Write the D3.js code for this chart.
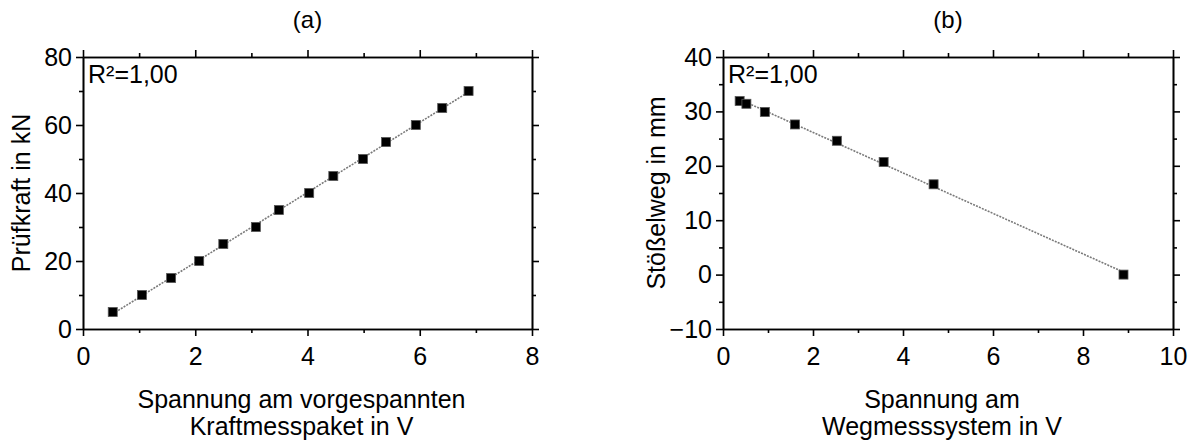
<!DOCTYPE html>
<html><head><meta charset="utf-8">
<script src="https://cdn.jsdelivr.net/npm/d3@7"></script>
<style>
html,body{margin:0;padding:0;background:#fff;}
text{font-family:"Liberation Sans",Arial,sans-serif;fill:#000;}
</style></head>
<body>
<svg id="chart" width="1192" height="446"></svg>
<script>
// Panel (a)
const aVolt = [0.53, 1.05, 1.57, 2.07, 2.50, 3.08, 3.49, 4.03, 4.46, 4.99, 5.40, 5.93, 6.40, 6.87];
const aForce = [5, 10, 15, 20, 25, 30, 35, 40, 45, 50, 55, 60, 65, 70];
// Panel (b)
const bVolt = [0.37, 0.52, 0.93, 1.60, 2.53, 3.57, 4.68, 8.90];
const bPath = [31.9, 31.4, 29.9, 27.6, 24.6, 20.7, 16.6, 0.0];

const aXTicks = [0, 2, 4, 6, 8];
const aYTicks = [0, 20, 40, 60, 80];
const bXTicks = [0, 2, 4, 6, 8, 10];
const bYTicks = [-10, 0, 10, 20, 30, 40];

const svg = d3.select("#chart");
const FS = 25;

function fit(xs, ys){
  const n = xs.length, mx = d3.mean(xs), my = d3.mean(ys);
  let sxy = 0, sxx = 0;
  for (let i=0;i<n;i++){ sxy += (xs[i]-mx)*(ys[i]-my); sxx += (xs[i]-mx)**2; }
  const m = sxy/sxx; return {m, b: my - m*mx};
}

function panel(cfg){
  const {left, right, top, bottom, xDom, yDom, xTicks, yTicks, xMinor, yMinor, xs, ys, title, xlab, ylab, ylabX} = cfg;
  const x = d3.scaleLinear().domain(xDom).range([left, right]);
  const y = d3.scaleLinear().domain(yDom).range([bottom, top]);
  const g = svg.append("g");

  // fit line
  const f = fit(xs, ys);
  const x0 = d3.min(xs), x1 = d3.max(xs);
  g.append("line").attr("x1", x(x0)).attr("y1", y(f.m*x0+f.b))
    .attr("x2", x(x1)).attr("y2", y(f.m*x1+f.b))
    .attr("stroke", "#7a7a7a").attr("stroke-width", 1.6).attr("stroke-dasharray", "2,1.2");

  // markers
  const s = 9;
  g.selectAll("rect.pt").data(xs.map((d,i)=>[d, ys[i]])).enter().append("rect")
    .attr("class","pt")
    .attr("x", d=>x(d[0])-s/2).attr("y", d=>y(d[1])-s/2)
    .attr("width", s).attr("height", s)
    .attr("fill", "#000").attr("stroke", "#555").attr("stroke-width", 0.8);

  // axes
  const axB = d3.axisBottom(x).tickValues(xTicks).tickSize(7).tickSizeOuter(0).tickPadding(11).tickFormat(d3.format("d"));
  const axT = d3.axisTop(x).tickValues(xTicks).tickSize(7).tickSizeOuter(0).tickFormat("");
  const axL = d3.axisLeft(y).tickValues(yTicks).tickSize(7).tickSizeOuter(0).tickPadding(4).tickFormat(d3.format("d"));
  const axR = d3.axisRight(y).tickValues(yTicks).tickSize(7).tickSizeOuter(0).tickFormat("");
  const mB = d3.axisBottom(x).tickValues(xMinor).tickSize(4).tickSizeOuter(0).tickFormat("");
  const mT = d3.axisTop(x).tickValues(xMinor).tickSize(4).tickSizeOuter(0).tickFormat("");
  const mL = d3.axisLeft(y).tickValues(yMinor).tickSize(4).tickSizeOuter(0).tickFormat("");
  const mR = d3.axisRight(y).tickValues(yMinor).tickSize(4).tickSizeOuter(0).tickFormat("");

  const place = (ax, tr) => {
    const a = g.append("g").attr("transform", tr).call(ax);
    a.selectAll("path,line").attr("stroke", "#000").attr("stroke-width", 1.6);
    a.selectAll("text").attr("font-size", FS).attr("font-family", "Liberation Sans, Arial, sans-serif").attr("fill","#000");
    return a;
  };
  place(axB, `translate(0,${bottom})`);
  place(axT, `translate(0,${top})`);
  place(axL, `translate(${left},0)`);
  place(axR, `translate(${right},0)`);
  place(mB, `translate(0,${bottom})`);
  place(mT, `translate(0,${top})`);
  place(mL, `translate(${left},0)`);
  place(mR, `translate(${right},0)`);

  // R² label
  g.append("text").attr("x", left + 5).attr("y", top + 26).attr("font-size", FS).text("R²=1,00");

  // title
  g.append("text").attr("x", (left+right)/2).attr("y", 28).attr("text-anchor","middle").attr("font-size", FS-1).text(title);

  // x label
  const cx = (left+right)/2 - 6;
  g.append("text").attr("x", cx).attr("y", 408).attr("text-anchor","middle").attr("font-size", FS).text(xlab[0]);
  g.append("text").attr("x", cx).attr("y", 435).attr("text-anchor","middle").attr("font-size", FS).text(xlab[1]);

  // y label
  g.append("text").attr("transform", `translate(${ylabX},${(top+bottom)/2}) rotate(-90)`)
    .attr("text-anchor","middle").attr("font-size", FS).text(ylab);
}

panel({left:83, right:532, top:57, bottom:329, xDom:[0,8], yDom:[0,80],
  xTicks:aXTicks, yTicks:aYTicks, xMinor:[1,3,5,7], yMinor:[10,30,50,70],
  xs:aVolt, ys:aForce, title:"(a)", xlab:["Spannung am vorgespannten","Kraftmesspaket in V"],
  ylab:"Prüfkraft in kN", ylabX:30});

panel({left:723, right:1173, top:57, bottom:329, xDom:[0,10], yDom:[-10,40],
  xTicks:bXTicks, yTicks:bYTicks, xMinor:[1,3,5,7,9], yMinor:[-5,5,15,25,35],
  xs:bVolt, ys:bPath, title:"(b)", xlab:["Spannung am","Wegmesssystem in V"],
  ylab:"Stößelweg in mm", ylabX:665});
</script>
</body></html>
